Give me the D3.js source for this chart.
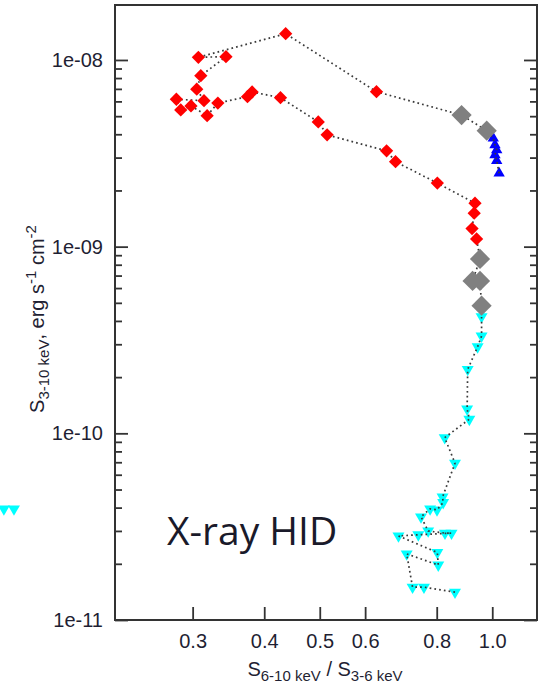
<!DOCTYPE html>
<html>
<head>
<meta charset="utf-8">
<script src="https://cdn.jsdelivr.net/npm/d3@7"></script>
<style>
  html, body { margin: 0; padding: 0; background: #fff; }
  svg { display: block; }
  text { font-family: "Liberation Sans", Arial, Helvetica, sans-serif; }
</style>
</head>
<body>
<svg id="chart" width="539" height="687"></svg>
<script>
// Hardness ratio S(6-10 keV)/S(3-6 keV) and 3-10 keV flux, listed in time order.
// Rise through the hard state (cyan, downward triangles)
const cyanX = [0.861, 0.760, 0.726, 0.709, 0.805, 0.802, 0.686, 0.743, 0.849, 0.827, 0.773, 0.751,
               0.779, 0.801, 0.821, 0.819, 0.861, 0.826, 0.912, 0.904, 0.906, 0.943, 0.958, 0.958];
const cyanY = [1.41e-11, 1.50e-11, 1.50e-11, 2.26e-11, 1.97e-11, 2.30e-11, 2.82e-11, 2.86e-11, 2.92e-11, 2.92e-11, 3.00e-11, 3.57e-11,
               3.94e-11, 3.89e-11, 4.26e-11, 4.56e-11, 6.92e-11, 9.48e-11, 1.19e-10, 1.35e-10, 2.20e-10, 2.91e-10, 3.32e-10, 4.22e-10];
// Transition (grey, large diamonds), first passage
const greyLowX = [0.958, 0.952, 0.924, 0.952];
const greyLowY = [4.83e-10, 6.55e-10, 6.55e-10, 8.59e-10];
// Bright soft states (red diamonds)
const redX = [0.939, 0.922, 0.930, 0.933, 0.802, 0.678, 0.654, 0.515, 0.497, 0.427, 0.381, 0.374,
              0.332, 0.318, 0.298, 0.286, 0.281, 0.314, 0.305, 0.310, 0.343, 0.307, 0.436, 0.628];
const redY = [1.10e-9, 1.25e-9, 1.51e-9, 1.71e-9, 2.19e-9, 2.85e-9, 3.26e-9, 3.97e-9, 4.66e-9, 6.28e-9, 6.74e-9, 6.36e-9,
              5.88e-9, 5.03e-9, 5.67e-9, 5.40e-9, 6.16e-9, 6.05e-9, 6.97e-9, 8.24e-9, 1.041e-8, 1.034e-8, 1.383e-8, 6.76e-9];
// Transition back (grey, large diamonds)
const greyHighX = [0.884, 0.978];
const greyHighY = [5.07e-9, 4.18e-9];
// Decay in the hard state (blue, upward triangles)
const blueX = [1.004, 1.011, 1.018, 1.011, 1.018, 1.028];
const blueY = [3.81e-9, 3.51e-9, 3.30e-9, 3.10e-9, 2.89e-9, 2.47e-9];
// Two points of the neighbouring panel that spill over the left margin
const edgeX = [1.113, 1.159];
const edgeY = [3.94e-11, 3.94e-11];

// Axis ticks
const xTicks = [0.3, 0.4, 0.5, 0.6, 0.8, 1.0];
const xTickLabels = ["0.3", "0.4", "0.5", "0.6", "0.8", "1.0"];
const yMajor = [1e-11, 1e-10, 1e-9, 1e-8];
const yMajorLabels = ["1e-11", "1e-10", "1e-09", "1e-08"];
const yMinorMult = [2, 3, 4, 5, 6, 7, 8, 9];

const titleText = "X-ray HID";

// ---- layout ----
const L = 115, R = 537, T = 5, B = 620;
const ink = "#333";
const textInk = "#1f1f33";

const x = d3.scaleLog().domain([0.2196, 1.197]).range([L, R]);
const y = d3.scaleLog().domain([1e-11, 1.97e-8]).range([B, T]);
// neighbouring panel sits one panel width to the left
const xEdge = d3.scaleLog().domain(x.domain()).range([L - 515, R - 515]);

const yMinor = [];
yMajor.forEach(d => yMinorMult.forEach(m => {
  const v = d * m;
  if (v < y.domain()[1]) yMinor.push(v);
}));

const svg = d3.select("#chart");

function styleAxis(g, fontSize) {
  g.select(".domain").remove();
  g.selectAll(".tick line").attr("stroke", ink).attr("stroke-width", 1.8);
  g.selectAll(".tick text").attr("fill", textInk)
    .style("font-size", fontSize + "px")
    .style("font-family", "'Liberation Sans', Arial, sans-serif");
}

// left axis: majors with labels, minors without (ticks point inward)
svg.append("g").attr("transform", `translate(${L},0)`)
  .call(d3.axisLeft(y).tickValues(yMajor).tickSize(-13).tickPadding(12)
        .tickFormat((d, i) => yMajorLabels[i]))
  .call(g => styleAxis(g, 20));
svg.append("g").attr("transform", `translate(${L},0)`)
  .call(d3.axisLeft(y).tickValues(yMinor).tickSize(-7).tickFormat(""))
  .call(g => styleAxis(g, 20));

// right axis mirrors the tick marks
svg.append("g").attr("transform", `translate(${R},0)`)
  .call(d3.axisRight(y).tickValues(yMajor).tickSize(-13).tickFormat(""))
  .call(g => styleAxis(g, 20));
svg.append("g").attr("transform", `translate(${R},0)`)
  .call(d3.axisRight(y).tickValues(yMinor).tickSize(-7).tickFormat(""))
  .call(g => styleAxis(g, 20));

// bottom axis
svg.append("g").attr("transform", `translate(0,${B})`)
  .call(d3.axisBottom(x).tickValues(xTicks).tickSize(-13).tickPadding(14)
        .tickFormat((d, i) => xTickLabels[i]))
  .call(g => styleAxis(g, 20));

// frame
svg.append("rect")
  .attr("x", L).attr("y", T).attr("width", R - L).attr("height", B - T)
  .attr("fill", "none").attr("stroke", ink).attr("stroke-width", 2);

// axis titles
const xl = svg.append("text")
  .attr("x", (L + R) / 2 - 1).attr("y", 676)
  .attr("text-anchor", "middle").attr("fill", textInk)
  .style("font-size", "20px");
xl.append("tspan").text("S");
xl.append("tspan").attr("dy", 5).style("font-size", "15px").text("6-10 keV");
xl.append("tspan").attr("dy", -5).text(" / S");
xl.append("tspan").attr("dy", 5).style("font-size", "15px").text("3-6 keV");

const yl = svg.append("text")
  .attr("transform", "translate(44,319) rotate(-90)")
  .attr("text-anchor", "middle").attr("fill", textInk)
  .style("font-size", "20px");
yl.append("tspan").text("S");
yl.append("tspan").attr("dy", 5).style("font-size", "15px").text("3-10 keV");
yl.append("tspan").attr("dy", -5).text(", erg s");
yl.append("tspan").attr("dy", -8).style("font-size", "15px").text("-1");
yl.append("tspan").attr("dy", 8).text(" cm");
yl.append("tspan").attr("dy", -8).style("font-size", "15px").text("-2");

// in-plot title
svg.append("text")
  .attr("x", 167).attr("y", 545)
  .attr("fill", "#1a1a2a")
  .style("font-family", "'Open Sans', sans-serif")
  .style("font-size", "39px")
  .text(titleText);

// ---- data ----
const zip = (xs, ys) => xs.map((v, i) => [v, ys[i]]);
const cyanPts = zip(cyanX, cyanY);
const greyLowPts = zip(greyLowX, greyLowY);
const redPts = zip(redX, redY);
const greyHighPts = zip(greyHighX, greyHighY);
const bluePts = zip(blueX, blueY);
const track = [].concat(cyanPts, greyLowPts, redPts, greyHighPts, bluePts);

function drawMarkers(pts, type, size, rot, fill, sx) {
  const path = d3.symbol().type(type).size(size)();
  svg.append("g").selectAll("path").data(pts).join("path")
    .attr("d", path)
    .attr("transform", d => `translate(${(sx || x)(d[0])},${y(d[1])}) rotate(${rot})`)
    .attr("fill", fill);
}

drawMarkers(zip(edgeX, edgeY), d3.symbolTriangle, 62, 180, "#00ffff", xEdge);
drawMarkers(cyanPts, d3.symbolTriangle, 62, 180, "#00ffff");
drawMarkers(bluePts, d3.symbolTriangle, 56, 0, "#0000ff");

// dotted track joining consecutive observations
svg.append("path")
  .datum(track)
  .attr("d", d3.line().x(d => x(d[0])).y(d => y(d[1])))
  .attr("fill", "none")
  .attr("stroke", "#3a3a3a")
  .attr("stroke-width", 1.7)
  .attr("stroke-dasharray", "1.7 3.1");

drawMarkers(redPts, d3.symbolSquare, 88, 45, "#ff0000");
drawMarkers(greyLowPts, d3.symbolSquare, 205, 45, "#808080");
drawMarkers(greyHighPts, d3.symbolSquare, 205, 45, "#808080");
</script>
</body>
</html>
